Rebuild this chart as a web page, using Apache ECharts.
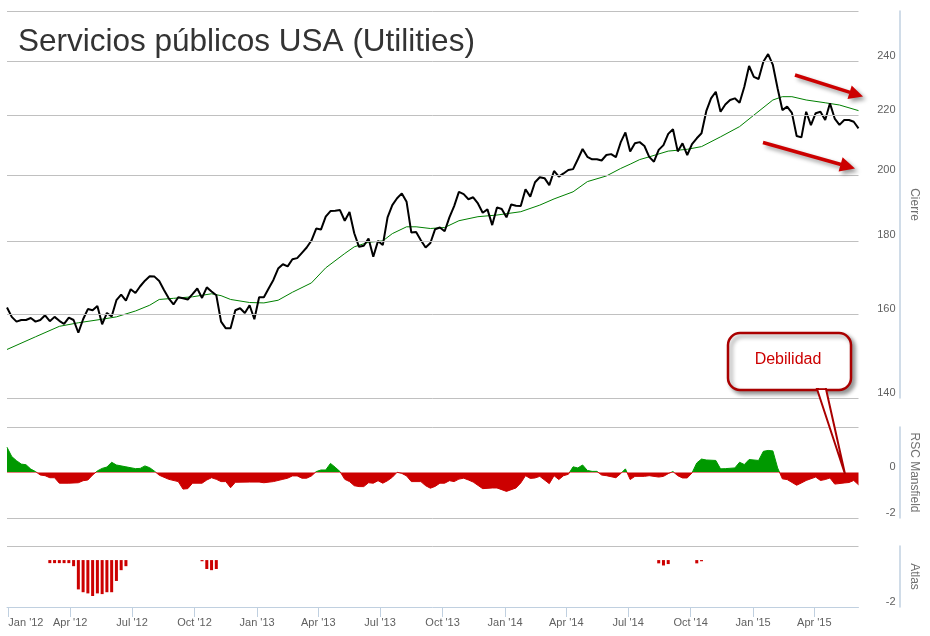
<!DOCTYPE html>
<html><head><meta charset="utf-8">
<script src="https://cdn.jsdelivr.net/npm/echarts@6/dist/echarts.min.js"></script>
<style>html,body{margin:0;padding:0;background:#fff}#c{width:930px;height:636px}</style>
</head><body><div id="c"></div>
<script>
// weekly closes, first week = Fri 30 Dec 2011
const price = [
161.8,159.4,158.2,158.6,158.6,159.1,158.2,158.6,159.8,158.3,
159.4,158.4,157.6,159.2,158.6,155.4,158.8,161.4,161.1,162.2,
157.5,160.4,159.5,163.7,165.2,163.6,166.6,165.6,167.4,168.9,
170.1,170.0,168.8,166.4,164.2,162.6,164.5,164.2,163.9,165.3,
166.8,164.3,167.1,166.0,165.0,158.2,156.5,156.5,161.1,161.6,
160.4,162.4,158.8,164.5,164.5,166.8,169.1,172.2,173.4,172.8,
174.8,175.1,176.6,178.1,180.1,183.6,183.3,187.1,188.8,188.9,
189.1,185.9,188.5,182.2,178.3,178.6,180.7,175.5,180.0,178.8,
186.9,190.6,192.7,194.2,191.6,182.4,182.6,180.2,178.1,179.4,
183.4,183.9,182.8,186.9,190.3,194.7,194.0,192.4,193.0,191.1,
188.3,189.3,184.6,189.9,189.4,186.9,190.8,190.4,190.3,195.5,
193.2,197.7,199.3,199.0,196.8,201.3,199.5,200.5,201.6,201.9,
205.1,208.5,205.9,205.1,205.1,204.7,206.5,206.8,205.8,210.7,
214.1,207.7,210.4,210.8,209.5,205.9,204.3,208.2,209.8,213.6,
215.2,207.7,210.4,206.5,210.1,212.1,213.8,221.5,226.1,228.5,
221.3,223.9,225.5,226.1,224.5,230.3,238.1,234.0,233.2,239.7,
242.7,238.5,229.7,221.9,223.1,220.9,212.9,212.4,221.3,216.6,
220.8,221.3,218.4,224.3,218.9,216.7,218.4,218.4,217.8,215.5
];
// moving average (green), read at selected weeks
const maWeek = [0,6,11,15,20,23,27,30,32,35,39,43,45,47,51,54,57,60,64,67,71,73,76,79,81,84,86,89,92,95,99,103,108,112,115,119,122,126,129,131,133,135,139,143,146,150,154,157,161,163,165,168,172,175,179];
const maValue = [151.3,154.4,157.0,157.9,158.8,159.4,160.9,162.4,163.9,164.2,164.6,165.4,164.9,163.9,163.1,163.0,163.7,165.8,168.3,172.4,176.4,178.3,179.6,180.0,182.1,184.1,184.1,183.6,183.9,185.9,187.1,187.6,188.6,190.6,192.5,194.7,197.9,199.7,202.1,203.5,205.0,205.9,207.8,208.4,209.3,212.6,216.1,220.1,225.5,226.7,226.7,225.5,224.5,223.7,221.7];
// RSC Mansfield
const rscWeek = [0,1,2,3,4,5,6,7,8,9,10,11,13,15,16,17,18,19,20,21,22,23,25,27,28,29,30,31,32,34,36,37,38,39,41,42,43,44,45,46,47,48,51,53,54,56,58,59,60,61,62,63,64,65,66,67,68,69,70,71,72,73,74,75,76,77,78,79,80,81,82,83,84,85,87,88,89,90,91,92,93,94,95,96,97,98,100,102,103,105,107,108,109,110,111,112,114,115,116,117,118,119,120,121,122,123,124,125,126,128,129,130,131,132,134,135,137,138,139,140,141,142,143,144,145,146,147,149,150,151,153,154,155,156,158,159,160,161,162,163,164,166,167,168,170,171,172,173,174,176,177,178,179];
const rscValue = [1.11,0.70,0.52,0.37,0.34,0.15,0.04,-0.11,-0.14,-0.23,-0.23,-0.47,-0.47,-0.45,-0.36,-0.33,-0.11,0.07,0.18,0.24,0.45,0.33,0.25,0.17,0.18,0.29,0.21,0.06,-0.12,-0.30,-0.40,-0.73,-0.71,-0.47,-0.47,-0.33,-0.23,-0.30,-0.40,-0.40,-0.67,-0.43,-0.42,-0.42,-0.45,-0.40,-0.30,-0.25,-0.15,-0.15,-0.25,-0.25,-0.15,0.04,0.11,0.11,0.40,0.23,0.04,-0.30,-0.40,-0.58,-0.62,-0.62,-0.45,-0.47,-0.36,-0.47,-0.36,-0.21,0.01,-0.04,-0.15,-0.40,-0.40,-0.58,-0.69,-0.61,-0.47,-0.47,-0.36,-0.40,-0.29,-0.25,-0.33,-0.42,-0.71,-0.68,-0.68,-0.83,-0.68,-0.46,-0.14,-0.26,-0.24,-0.17,-0.49,-0.14,-0.31,-0.14,-0.08,0.25,0.20,0.33,0.09,0.05,0.05,-0.11,-0.14,-0.23,-0.05,0.16,-0.31,-0.17,-0.17,-0.14,-0.20,-0.17,-0.05,0.04,-0.14,-0.24,-0.24,-0.02,0.42,0.59,0.55,0.53,0.16,0.17,0.20,0.45,0.35,0.57,0.53,0.93,0.97,0.95,0.20,-0.28,-0.31,-0.56,-0.46,-0.35,-0.20,-0.35,-0.31,-0.24,-0.51,-0.46,-0.44,-0.35,-0.54];
// Atlas
const atlasWeek = [9,10,11,12,13,14,15,16,17,18,19,20,21,22,23,24,25,41,42,43,44,137,138,139,145,146];
const atlasValue = [-0.13,-0.13,-0.13,-0.13,-0.13,-0.26,-1.25,-1.37,-1.42,-1.53,-1.42,-1.45,-1.37,-1.37,-0.89,-0.43,-0.26,-0.05,-0.38,-0.43,-0.38,-0.14,-0.23,-0.17,-0.14,-0.05];

const priceTicks = [140,160,180,200,220,240];
const priceGridLines = [140,160,180,200,220,240,260];
const rscTicks = [0,-2];
const rscGridLines = [2,-2];
const atlasTicks = [-2];
const atlasGridLines = [0.6];
const quarterTicks = [[2012,0],[2012,3],[2012,6],[2012,9],[2013,0],[2013,3],[2013,6],[2013,9],[2014,0],[2014,3],[2014,6],[2014,9],[2015,0],[2015,3]];
const monthNames = ['Jan','Feb','Mar','Apr','May','Jun','Jul','Aug','Sep','Oct','Nov','Dec'];

function weekTime(i){ return new Date(2011,11,30+7*i).getTime(); }
const tMin = weekTime(0), tMax = weekTime(price.length-1);
const priceData = price.map((v,i)=>[weekTime(i),v]);
const maData = maWeek.map((w,k)=>[weekTime(w),maValue[k]]);
const rscData = rscWeek.map((w,k)=>[weekTime(w),rscValue[k]]);
const atlasData = atlasWeek.map((w,k)=>[weekTime(w),atlasValue[k]]);
const qTimes = quarterTicks.map(q=>new Date(q[0],q[1],1).getTime());

const FONT = 'Liberation Sans, Arial, sans-serif';
const gridLineStyle = {color:'#c0c0c0', width:1, type:'solid'};
const axisLineColor = '#c0d0e0';
function yAx(idx, extra){
  return Object.assign({
    gridIndex: idx, position:'right', offset: 41,
    axisLine:{show:true, lineStyle:{color:axisLineColor, width:1.5}},
    axisTick:{show:false}, splitLine:{show:false},
    nameLocation:'middle', nameRotate:-90, nameGap:6,
    nameTextStyle:{color:'#707070', fontSize:12, fontFamily:FONT}
  }, extra);
}
function lbl(values){
  return {inside:true, margin:4, customValues:values, verticalAlign:'bottom', color:'#606060', fontSize:11, fontFamily:FONT, formatter:v=>String(Math.round(v))};
}
function xAx(idx, show){
  const a = {gridIndex:idx, type:'value', min:tMin, max:tMax, scale:true, splitLine:{show:false}};
  if(!show){ a.show = false; return a; }
  a.axisLine = {show:true, onZero:false, lineStyle:{color:axisLineColor, width:1}};
  a.axisTick = {show:true, length:10, customValues:qTimes, lineStyle:{color:axisLineColor}};
  a.axisLabel = {customValues:qTimes, margin:10, color:'#606060', fontSize:11, fontFamily:FONT, alignMinLabel:'left',
    formatter:v=>{const d=new Date(v); return monthNames[d.getMonth()]+" '"+String(d.getFullYear()).slice(2);}};
  return a;
}
function mk(values){
  return {silent:true, symbol:['none','none'], label:{show:false}, lineStyle:gridLineStyle, emphasis:{disabled:true},
    data: values.map(v=>({yAxis:v}))};
}
const shadow = {shadowBlur:4, shadowColor:'rgba(0,0,0,0.4)', shadowOffsetX:3, shadowOffsetY:3};

const chart = echarts.init(document.getElementById('c'), null, {renderer:'canvas'});
chart.setOption({
  animation:false,
  backgroundColor:'#fff',
  title:{text:'Servicios públicos USA (Utilities)', left:18, top:26, padding:0,
    textStyle:{fontSize:31.5, fontWeight:'normal', color:'#333', fontFamily:FONT}},
  grid:[
    {left:7, right:71.5, top:11, height:387},
    {left:7, right:71.5, top:427, height:91},
    {left:7, right:71.5, top:546, height:61}
  ],
  xAxis:[xAx(0,false), xAx(1,false), xAx(2,true)],
  yAxis:[
    yAx(0,{type:'log', min:140, max:260, name:'Cierre', axisLabel:lbl(priceTicks)}),
    yAx(1,{type:'value', min:-2, max:2, name:'RSC Mansfield', axisLabel:lbl(rscTicks)}),
    yAx(2,{type:'value', min:-2, max:0.6, name:'Atlas', axisLabel:lbl(atlasTicks)})
  ],
  visualMap:[{show:false, type:'piecewise', seriesIndex:4, dimension:1,
    pieces:[{gt:-10, lte:0, color:'#cc0000'},{gt:0, lte:10, color:'#009900'}]}],
  series:[
    {name:'grid0', type:'line', xAxisIndex:0, yAxisIndex:0, data:priceData, showSymbol:false, silent:true, z:1,
      lineStyle:{opacity:0}, markLine:mk(priceGridLines)},
    {name:'MA', type:'line', xAxisIndex:0, yAxisIndex:0, data:maData, showSymbol:false, z:2,
      lineStyle:{color:'#008000', width:1}, itemStyle:{color:'#008000'}},
    {name:'Cierre', type:'line', xAxisIndex:0, yAxisIndex:0, data:priceData, showSymbol:false, z:3,
      lineStyle:{color:'#000', width:2}, itemStyle:{color:'#000'}},
    {name:'grid1', type:'line', xAxisIndex:1, yAxisIndex:1, data:rscData, showSymbol:false, silent:true, z:1,
      lineStyle:{opacity:0}, markLine:mk(rscGridLines)},
    {name:'RSC Mansfield', type:'line', xAxisIndex:1, yAxisIndex:1, data:rscData, showSymbol:false, z:2,
      lineStyle:{width:1}, areaStyle:{opacity:1}},
    {name:'grid2', type:'line', xAxisIndex:2, yAxisIndex:2, data:atlasData, showSymbol:false, silent:true, z:1,
      lineStyle:{opacity:0}, markLine:mk(atlasGridLines)},
    {name:'Atlas', type:'custom', xAxisIndex:2, yAxisIndex:2, data:atlasData, z:2,
      encode:{x:0, y:1},
      renderItem:function(params, api){
        const base = api.coord([api.value(0), 0]);
        const end = api.coord([api.value(0), api.value(1)]);
        return {type:'rect', shape:{x:base[0]-1.5, y:base[1], width:3, height:end[1]-base[1]}, style:{fill:'#cc0000'}};
      }}
  ],
  graphic:[
    {type:'line', shape:{x1:795,y1:75,x2:850,y2:92.3}, style:Object.assign({stroke:'#cc0000', lineWidth:3.5}, shadow), z:100},
    {type:'polygon', shape:{points:[[863,96.5],[851.7,85.6],[847.5,99]]}, style:Object.assign({fill:'#cc0000'}, shadow), z:100},
    {type:'line', shape:{x1:763,y1:142.5,x2:841,y2:164.5}, style:Object.assign({stroke:'#cc0000', lineWidth:3.5}, shadow), z:100},
    {type:'polygon', shape:{points:[[855,168.5],[842.6,157.2],[838.6,171.6]]}, style:Object.assign({fill:'#cc0000'}, shadow), z:100},
    {type:'rect', shape:{x:728,y:333,width:123,height:57,r:12}, style:Object.assign({fill:'#fff', stroke:'#aa0000', lineWidth:2.5}, shadow), z:100},
    {type:'polygon', shape:{points:[[817,389],[845,474],[826,389]]}, style:{fill:'#fff', stroke:'#aa0000', lineWidth:2}, z:101},
    {type:'rect', shape:{x:819,y:386,width:6,height:2.2}, style:{fill:'#fff'}, z:102},
    {type:'text', x:788, y:360, style:{text:'Debilidad', fill:'#cc0000', font:'16px '+FONT, align:'center', verticalAlign:'middle', textAlign:'center', textVerticalAlign:'middle'}, z:103}
  ]
});
</script></body></html>
